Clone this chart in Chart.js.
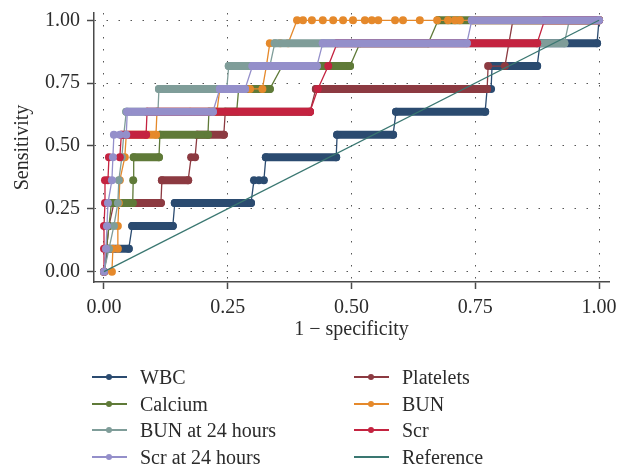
<!DOCTYPE html>
<html>
<head>
<meta charset="utf-8">
<script src="https://cdn.jsdelivr.net/npm/chart.js@4.4.1/dist/chart.umd.min.js"></script>
<style>
    html, body { margin: 0; padding: 0; background: #fff; }
    #wrap { position: relative; width: 627px; height: 475px; }
    #wrap canvas { position: absolute; left: 0; top: 0; }
    #legend { position: absolute; left: 0; top: 0; font-family: "Liberation Serif", serif; font-size: 20px; color: #2b2b2b; }
    .item { position: absolute; height: 26px; line-height: 26px; white-space: nowrap; }
    .swatch { position: absolute; left: 0; top: 12px; width: 35px; height: 2px; }
    .swatch i { position: absolute; left: 14px; top: -2px; width: 6px; height: 6px; border-radius: 50%; }
    .label { position: absolute; left: 48px; top: 0; }
</style>
</head>
<body>
<div id="wrap">
    <canvas id="roc" width="627" height="475"></canvas>
    <div id="legend"></div>
</div>
<script>
// Axis ticks
const xTicks = [0, 0.25, 0.5, 0.75, 1];
const yTicks = [0, 0.25, 0.5, 0.75, 1];

// ROC points (1 - specificity, sensitivity)
const wbcX = [0, 0.008, 0.050, 0.057, 0.139, 0.143, 0.297, 0.303, 0.313, 0.323, 0.327, 0.469, 0.471, 0.584, 0.590, 0.770, 0.774, 0.782, 0.784, 0.875, 0.881, 0.996, 1];
const wbcY = [0, 0.091, 0.091, 0.182, 0.182, 0.273, 0.273, 0.364, 0.364, 0.364, 0.455, 0.455, 0.545, 0.545, 0.636, 0.636, 0.727, 0.727, 0.818, 0.818, 0.909, 0.909, 1];

const plateletsX = [0, 0.005, 0.010, 0.020, 0.115, 0.117, 0.170, 0.176, 0.184, 0.188, 0.242, 0.245, 0.416, 0.428, 0.774, 0.776, 0.810, 0.818, 0.826, 1];
const plateletsY = [0, 0.091, 0.182, 0.273, 0.273, 0.364, 0.364, 0.455, 0.455, 0.545, 0.545, 0.636, 0.636, 0.727, 0.727, 0.818, 0.818, 0.909, 1, 1];

const calciumX = [0, 0.005, 0.010, 0.015, 0.058, 0.059, 0.060, 0.111, 0.113, 0.210, 0.212, 0.268, 0.272, 0.335, 0.360, 0.497, 0.517, 0.655, 0.675, 1];
const calciumY = [0, 0.091, 0.182, 0.273, 0.273, 0.364, 0.455, 0.455, 0.545, 0.545, 0.636, 0.636, 0.727, 0.727, 0.818, 0.818, 0.909, 0.909, 1, 1];

const bunX = [0, 0.016, 0.018, 0.028, 0.028, 0.030, 0.032, 0.042, 0.045, 0.105, 0.107, 0.174, 0.228, 0.234, 0.260, 0.295, 0.320, 0.328, 0.335, 0.356, 0.372, 0.390,
              0.402, 0.420, 0.442, 0.463, 0.483, 0.503, 0.527, 0.541, 0.554, 0.588, 0.604, 0.638, 0.673, 0.695, 0.709, 0.719, 0.745, 1];
const bunY = [0, 0, 0.091, 0.091, 0.182, 0.273, 0.364, 0.455, 0.545, 0.545, 0.636, 0.636, 0.636, 0.727, 0.727, 0.727, 0.727, 0.818, 0.909, 0.909, 0.909, 1,
              1, 1, 1, 1, 1, 1, 1, 1, 1, 1, 1, 1, 1, 1, 1, 1, 1, 1];

const bun24X = [0, 0.010, 0.020, 0.028, 0.030, 0.036, 0.040, 0.045, 0.109, 0.111, 0.248, 0.252, 0.335, 0.345, 0.930, 0.940, 1];
const bun24Y = [0, 0.091, 0.182, 0.273, 0.364, 0.455, 0.545, 0.636, 0.636, 0.727, 0.727, 0.818, 0.818, 0.909, 0.909, 1, 1];

const scrX = [0, 0, 0, 0.002, 0.002, 0.008, 0.010, 0.032, 0.035, 0.085, 0.087, 0.416, 0.432, 0.453, 0.471, 0.875, 0.890, 1];
const scrY = [0, 0.091, 0.182, 0.273, 0.364, 0.364, 0.455, 0.455, 0.545, 0.545, 0.636, 0.636, 0.727, 0.818, 0.909, 0.909, 1, 1];

const scr24X = [0, 0.004, 0.006, 0.008, 0.016, 0.018, 0.020, 0.032, 0.045, 0.047, 0.220, 0.234, 0.285, 0.300, 0.430, 0.442, 0.733, 0.743, 1];
const scr24Y = [0, 0.091, 0.182, 0.273, 0.364, 0.455, 0.545, 0.545, 0.545, 0.636, 0.636, 0.727, 0.727, 0.818, 0.818, 0.909, 0.909, 1, 1];

const refX = [0, 1];
const refY = [0, 1];

// Colours
const colors = {
    wbc: '#2b4b70',
    platelets: '#8c3a41',
    calcium: '#5f7a38',
    bun: '#e5892b',
    bun24: '#7f9d99',
    scr: '#c42340',
    scr24: '#948fca',
    ref: '#3a7771'
};

const axisColor = '#4a4a4a';
const textColor = '#2b2b2b';
const gridColor = '#555555';
const font = { family: '"Liberation Serif", serif', size: 20 };

// A horizontal stretch of dense points is drawn as a thick band
function isRun(ctx) {
    return ctx.p0.parsed.y === ctx.p1.parsed.y && (ctx.p1.parsed.x - ctx.p0.parsed.x) > 0.04;
}

function rocSeries(label, xs, ys, color, order) {
    return {
        label: label,
        data: xs.map((x, i) => ({ x: x, y: ys[i] })),
        borderColor: color,
        backgroundColor: color,
        pointBackgroundColor: color,
        pointBorderColor: color,
        pointBorderWidth: 0,
        pointRadius: 4,
        borderWidth: 1.3,
        borderCapStyle: 'round',
        borderJoinStyle: 'round',
        tension: 0,
        order: order,
        segment: {
            borderWidth: ctx => isRun(ctx) ? 8 : 1.3
        }
    };
}

// Plot order: WBC at the bottom, reference on top
const datasets = [
    rocSeries('WBC', wbcX, wbcY, colors.wbc, 8),
    rocSeries('Platelets', plateletsX, plateletsY, colors.platelets, 7),
    rocSeries('Calcium', calciumX, calciumY, colors.calcium, 6),
    rocSeries('BUN', bunX, bunY, colors.bun, 5),
    rocSeries('BUN at 24 hours', bun24X, bun24Y, colors.bun24, 4),
    rocSeries('Scr', scrX, scrY, colors.scr, 3),
    rocSeries('Scr at 24 hours', scr24X, scr24Y, colors.scr24, 2),
    {
        label: 'Reference',
        data: refX.map((x, i) => ({ x: x, y: refY[i] })),
        borderColor: colors.ref,
        borderWidth: 1.3,
        pointRadius: 0,
        order: 1
    }
];

function axis(ticksList, extra) {
    return Object.assign({
        type: 'linear',
        afterBuildTicks: scale => { scale.ticks = ticksList.map(v => ({ value: v })); },
        ticks: {
            callback: v => v.toFixed(2),
            font: font,
            color: textColor,
            padding: 7,
            autoSkip: false,
            maxRotation: 0
        },
        grid: {
            color: gridColor,
            lineWidth: 1,
            tickLength: 7,
            tickColor: axisColor,
            tickWidth: 1.5
        },
        border: { display: true, color: axisColor, width: 1.5, dash: [1.5, 10.5] }
    }, extra);
}

new Chart(document.getElementById('roc').getContext('2d'), {
    type: 'line',
    data: { datasets: datasets },
    options: {
        responsive: false,
        animation: false,
        events: [],
        layout: { padding: { left: 0, top: 13, right: 18, bottom: 130 } },
        plugins: { legend: { display: false }, tooltip: { enabled: false } },
        scales: {
            x: axis(xTicks, {
                min: -0.0202,
                max: 1.0202,
                afterFit: scale => {
                    scale.height = 63;
                    scale.paddingLeft = 0;
                    scale.paddingRight = 0;
                },
                title: { display: true, text: '1 − specificity', font: font, color: textColor, padding: { top: 0, bottom: 3 } }
            }),
            y: axis(yTicks, {
                min: -0.041,
                max: 1.029,
                afterFit: scale => {
                    scale.width = 94;
                    scale.paddingTop = 0;
                    scale.paddingBottom = 0;
                },
                title: { display: true, text: 'Sensitivity', font: font, color: textColor, padding: { top: 11, bottom: 0 } }
            })
        }
    }
});

// Legend: two columns, as in the original
const legendItems = [
    { label: 'WBC', color: colors.wbc, dot: true, col: 0, row: 0 },
    { label: 'Calcium', color: colors.calcium, dot: true, col: 0, row: 1 },
    { label: 'BUN at 24 hours', color: colors.bun24, dot: true, col: 0, row: 2 },
    { label: 'Scr at 24 hours', color: colors.scr24, dot: true, col: 0, row: 3 },
    { label: 'Platelets', color: colors.platelets, dot: true, col: 1, row: 0 },
    { label: 'BUN', color: colors.bun, dot: true, col: 1, row: 1 },
    { label: 'Scr', color: colors.scr, dot: true, col: 1, row: 2 },
    { label: 'Reference', color: colors.ref, dot: false, col: 1, row: 3 }
];
const colLeft = [92, 354];
const rowTop = [364, 391, 417, 444];

document.getElementById('legend').innerHTML = legendItems.map(item => `
    <div class="item" style="left:${colLeft[item.col]}px; top:${rowTop[item.row]}px;">
        <span class="swatch" style="background:${item.color}">${item.dot ? `<i style="background:${item.color}"></i>` : ''}</span>
        <span class="label">${item.label}</span>
    </div>
`).join('');
</script>
</body>
</html>
